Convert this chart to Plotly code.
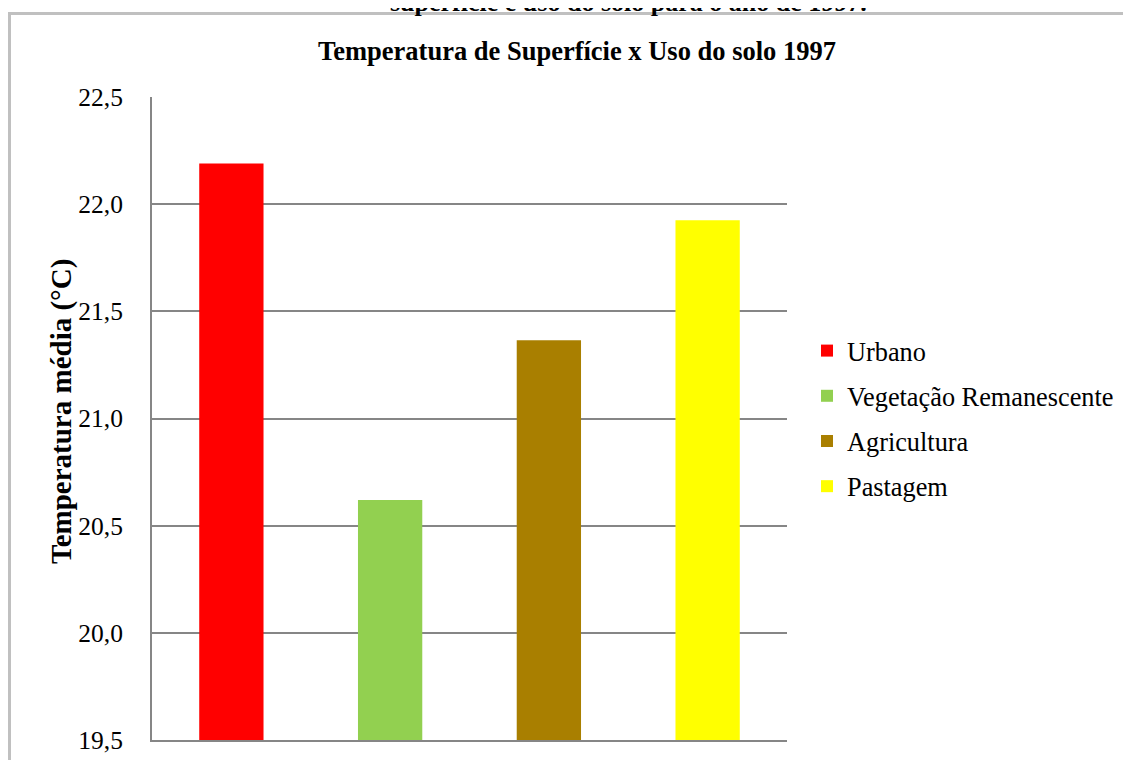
import plotly.graph_objects as go

categories = ["Urbano", "Vegetação Remanescente", "Agricultura", "Pastagem"]
values = [22.19, 20.62, 21.365, 21.925]
colors = ["#FF0000", "#92D050", "#A97F00", "#FFFF00"]
tick_vals = [19.5, 20.0, 20.5, 21.0, 21.5, 22.0, 22.5]
tick_text = ["19,5", "20,0", "20,5", "21,0", "21,5", "22,0", "22,5"]

OFF = 8  # page body margin
W, H = 1131 - OFF, 760 - OFF
L, T = 152 - OFF, 97 - OFF
R = W - (787 - OFF)
B = H - (740 - OFF)
pw, ph = W - L - R, H - T - B

def px(x):  # x in reference screen pixels
    return (x - OFF - L) / pw

def py(y):
    return (H - B - (y - OFF)) / ph

fig = go.Figure()
for c, v, col in zip(categories, values, colors):
    fig.add_trace(go.Bar(
        x=[c], y=[v], name=c, marker=dict(color=col, line=dict(width=0)),
        width=0.405, legendgroup=c,
    ))

serif = "Liberation Serif"

fig.update_layout(
    width=W, height=H,
    margin=dict(l=L, r=R, t=T, b=B, autoexpand=False),
    paper_bgcolor="white", plot_bgcolor="white",
    barmode="overlay",
    showlegend=True,
    legend=dict(
        x=px(807), y=py(327), xanchor="left", yanchor="top",
        font=dict(family=serif, size=26.3, color="black"),
        traceorder="grouped", tracegroupgap=8,
        itemwidth=30, bgcolor="rgba(0,0,0,0)",
    ),
    font=dict(family=serif, color="black"),
    xaxis=dict(
        categoryorder="array", categoryarray=categories,
        showticklabels=False, ticks="", showgrid=False,
        showline=True, linecolor="#868686", linewidth=2,
        range=[-0.5, 3.5], zeroline=False,
    ),
    yaxis=dict(
        range=[19.5, 22.5], tickvals=tick_vals, ticktext=tick_text,
        ticks="", showgrid=True, gridcolor="#868686", gridwidth=1.5,
        showline=True, linecolor="#868686", linewidth=2,
        tickfont=dict(family=serif, size=25.5, color="black"),
        ticklabelstandoff=22, zeroline=False,
    ),
    shapes=[
        dict(type="line", xref="paper", yref="paper",
             x0=px(9.5), x1=px(9.5), y0=py(13.5), y1=py(790),
             line=dict(color="#C0C0C0", width=3)),
        dict(type="line", xref="paper", yref="paper",
             x0=px(8), x1=px(1160), y0=py(13.5), y1=py(13.5),
             line=dict(color="#C0C0C0", width=3)),
    ],
    annotations=[
        dict(text="<b>Temperatura de Superfície x Uso do solo 1997</b>",
             xref="paper", yref="paper", x=px(577), y=py(51),
             xanchor="center", yanchor="middle", showarrow=False,
             font=dict(family=serif, size=26.5, color="black")),
        dict(text="<b>superfície e uso do solo para o ano de 1997.</b>",
             xref="paper", yref="paper", x=px(628), y=py(2),
             xanchor="center", yanchor="middle", showarrow=False,
             font=dict(family=serif, size=26, color="black")),
        dict(text="<b>Temperatura média (°C)</b>",
             xref="paper", yref="paper", x=px(62), y=py(412),
             xanchor="center", yanchor="middle", showarrow=False, textangle=-90,
             font=dict(family=serif, size=29, color="black")),
    ],
)

fig.write_html("out.html")
